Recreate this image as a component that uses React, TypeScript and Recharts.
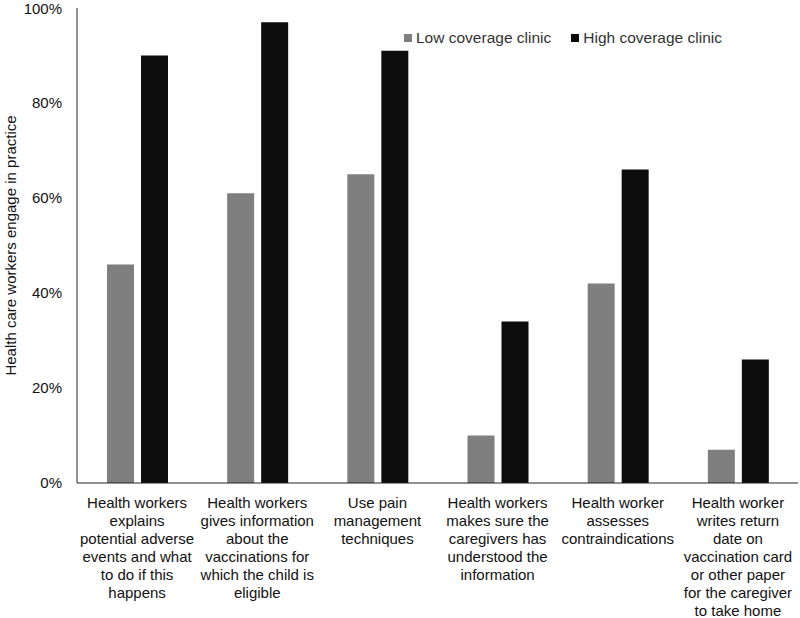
import { BarChart, Bar, XAxis, YAxis } from "recharts";

const categories: string[][] = [
  ["Health workers", "explains", "potential adverse", "events and what", "to do if this", "happens"],
  ["Health workers", "gives information", "about the", "vaccinations for", "which the child is", "eligible"],
  ["Use pain", "management", "techniques"],
  ["Health workers", "makes sure the", "caregivers has", "understood the", "information"],
  ["Health worker", "assesses", "contraindications"],
  ["Health worker", "writes return", "date on", "vaccination card", "or other paper", "for the caregiver", "to take home"],
];

const lowCoverage = [46, 61, 65, 10, 42, 7];
const highCoverage = [90, 97, 91, 34, 66, 26];
const yTicks = [0, 20, 40, 60, 80, 100];

const data = categories.map((lines, i) => ({
  name: lines.join(" "),
  low: lowCoverage[i],
  high: highCoverage[i],
}));

const FONT = "'Liberation Sans', Arial, sans-serif";

function CategoryTick(props: any) {
  const { x, y, payload } = props;
  const lines = categories[payload.index] || [];
  return (
    <text x={x} y={y} textAnchor="middle" fontFamily={FONT} fontSize={15} fill="#111">
      {lines.map((l, i) => (
        <tspan key={i} x={x} dy={i === 0 ? 17 : 18}>
          {l}
        </tspan>
      ))}
    </text>
  );
}

function LegendBox() {
  const item = (color: string, label: string) => (
    <span style={{ display: "inline-flex", alignItems: "center", marginRight: 20 }}>
      <span style={{ width: 8, height: 8, background: color, display: "inline-block", marginRight: 4 }} />
      <span>{label}</span>
    </span>
  );
  return (
    <div
      style={{
        position: "absolute",
        left: 404,
        top: 28,
        fontFamily: FONT,
        fontSize: 15.5,
        color: "#333",
        whiteSpace: "nowrap",
      }}
    >
      {item("#7f7f7f", "Low coverage clinic")}
      {item("#0d0d0d", "High coverage clinic")}
    </div>
  );
}

export default function App() {
  return (
    <div style={{ position: "absolute", left: 0, top: 0, width: 800, height: 618, background: "#fff" }}>
      <BarChart
        width={800}
        height={618}
        data={data}
        margin={{ top: 8, right: 2, left: 0, bottom: 0 }}
        barSize={27}
        barGap={7}
      >
        <XAxis
          dataKey="name"
          height={135}
          interval={0}
          tickLine={false}
          axisLine={{ stroke: "#222" }}
          tick={<CategoryTick />}
        />
        <YAxis
          width={77}
          domain={[0, 100]}
          ticks={yTicks}
          tickLine={false}
          tickSize={0}
          tickMargin={15}
          axisLine={{ stroke: "#222" }}
          tickFormatter={(v: number) => `${v}%`}
          tick={{ fontFamily: FONT, fontSize: 15, fill: "#111" }}
          label={{
            value: "Health care workers engage in practice",
            angle: -90,
            position: "center",
            dx: -28,
            style: { fontFamily: FONT, fontSize: 15, fill: "#111", textAnchor: "middle" },
          }}
        />
        <Bar dataKey="low" name="Low coverage clinic" fill="#7f7f7f" isAnimationActive={false} />
        <Bar dataKey="high" name="High coverage clinic" fill="#0d0d0d" isAnimationActive={false} />
      </BarChart>
      <LegendBox />
    </div>
  );
}
